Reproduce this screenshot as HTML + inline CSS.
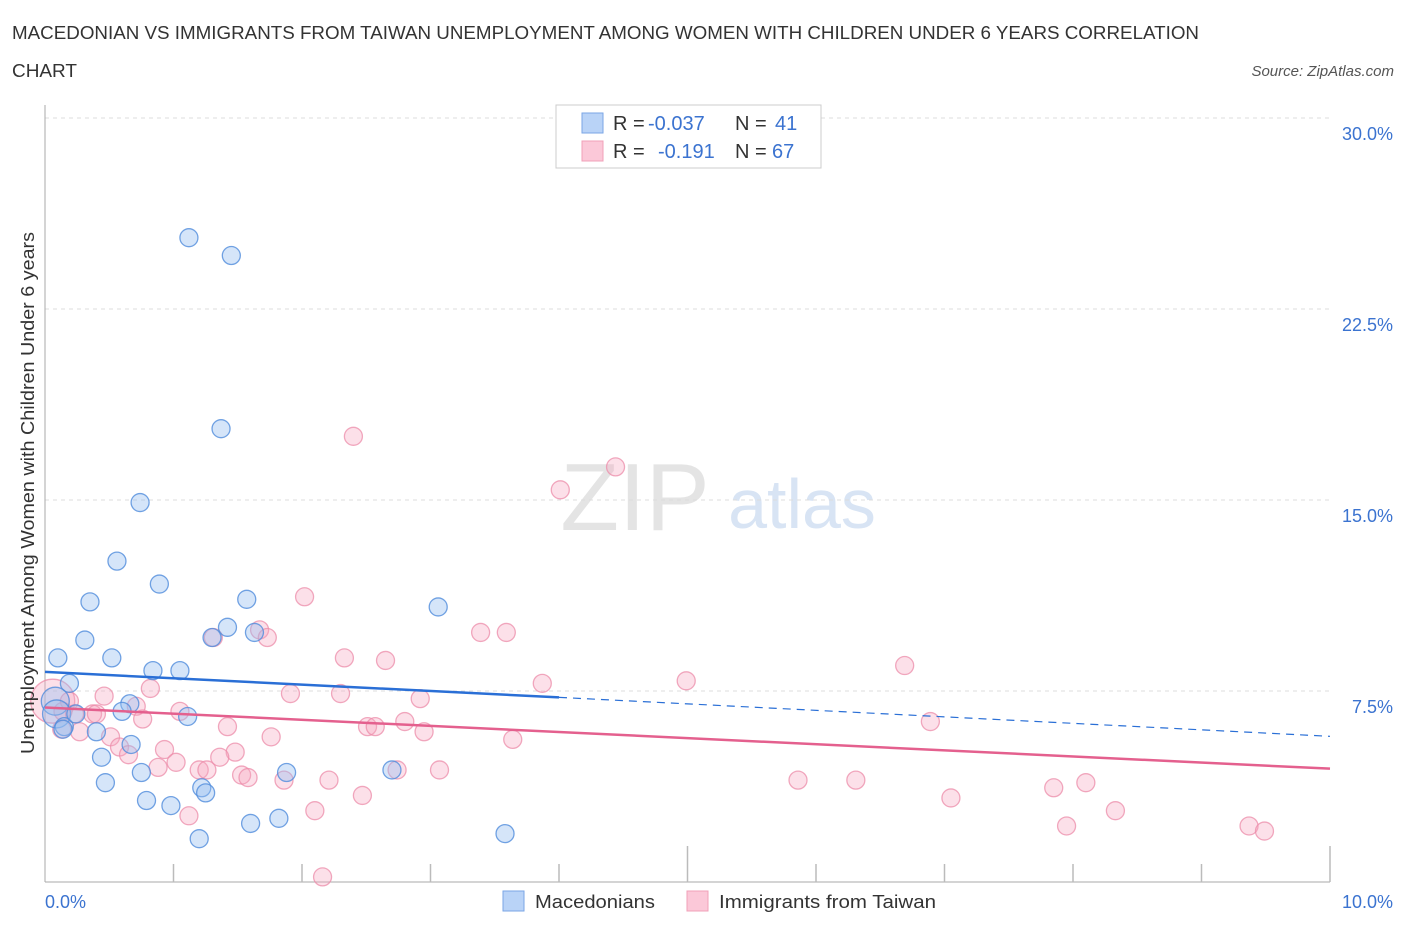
<!DOCTYPE html>
<html><head><meta charset="utf-8"><style>
body{margin:0;background:#fff;font-family:"Liberation Sans",sans-serif}
svg text{font-family:"Liberation Sans",sans-serif}
</style></head><body>
<svg id="c" width="1406" height="930" xmlns="http://www.w3.org/2000/svg">
<text x="12" y="39" font-size="18" fill="#333" textLength="1187" lengthAdjust="spacingAndGlyphs">MACEDONIAN VS IMMIGRANTS FROM TAIWAN UNEMPLOYMENT AMONG WOMEN WITH CHILDREN UNDER 6 YEARS CORRELATION</text>
<text x="12" y="77" font-size="18" fill="#333" textLength="65" lengthAdjust="spacingAndGlyphs">CHART</text>
<text x="1394" y="76" font-size="15" fill="#555" font-style="italic" text-anchor="end">Source: ZipAtlas.com</text>
<text x="635" y="530" font-size="96" fill="#e4e4e4" font-family="Liberation Serif" text-anchor="middle">ZIP</text>
<text x="802" y="528" font-size="70" fill="#d8e4f4" text-anchor="middle">atlas</text>
<g id="grid"></g>
<g id="marks"></g>
<text transform="translate(34,493) rotate(-90)" font-size="18" fill="#333" text-anchor="middle" textLength="522" lengthAdjust="spacingAndGlyphs">Unemployment Among Women with Children Under 6 years</text>
<text x="45" y="908" font-size="18" fill="#3b73d0">0.0%</text>
<text x="1393" y="908" font-size="18" fill="#3b73d0" text-anchor="end">10.0%</text>
<g>
<rect x="556" y="105" width="265" height="63" fill="#fff" stroke="#ccc"/>
<rect x="582" y="113" width="21" height="20" fill="#b9d3f7" stroke="#7aa6e6"/>
<rect x="582" y="141" width="21" height="20" fill="#fbc8d8" stroke="#f0a0b8"/>
<text x="613" y="130" font-size="20" fill="#333">R =</text><text x="648" y="130" font-size="20" fill="#3b73d0">-0.037</text>
<text x="735" y="130" font-size="20" fill="#333">N =</text><text x="775" y="130" font-size="20" fill="#3b73d0">41</text>
<text x="613" y="158" font-size="20" fill="#333">R =</text><text x="658" y="158" font-size="20" fill="#3b73d0">-0.191</text>
<text x="735" y="158" font-size="20" fill="#333">N =</text><text x="772" y="158" font-size="20" fill="#3b73d0">67</text>
</g>
<g>
<rect x="503" y="891" width="21" height="20" fill="#b9d3f7" stroke="#7aa6e6"/>
<text x="535" y="908" font-size="18" fill="#333" textLength="120" lengthAdjust="spacingAndGlyphs">Macedonians</text>
<rect x="687" y="891" width="21" height="20" fill="#fbc8d8" stroke="#f0a0b8"/>
<text x="719" y="908" font-size="18" fill="#333" textLength="217" lengthAdjust="spacingAndGlyphs">Immigrants from Taiwan</text>
</g>
</svg>
<script>
const yTicks=[7.5,15,22.5,30];
const yTickLabels=["7.5%","15.0%","22.5%","30.0%"];
const macX=[1.12,1.45,1.37,0.74,0.56,0.89,0.35,1.57,3.06,1.42,1.30,1.63,0.31,0.10,0.52,0.84,1.05,0.19,0.66,0.60,1.11,0.08,0.09,0.15,0.40,0.67,0.44,0.75,1.88,2.70,0.47,0.79,0.98,1.22,1.25,1.60,1.82,1.20,3.58,0.14,0.24];
const macY=[25.3,24.6,17.8,14.9,12.6,11.7,11.0,11.1,10.8,10.0,9.6,9.8,9.5,8.8,8.8,8.3,8.3,7.8,7.0,6.7,6.5,7.1,6.6,6.1,5.9,5.4,4.9,4.3,4.3,4.4,3.9,3.2,3.0,3.7,3.5,2.3,2.5,1.7,1.9,6.0,6.6];
const twX=[2.40,4.44,4.01,2.02,3.39,3.59,1.67,1.73,1.31,2.33,2.65,6.69,4.99,3.87,0.82,1.91,0.46,2.92,2.30,0.06,0.71,0.14,0.37,1.05,0.40,0.76,1.42,2.51,2.57,2.80,6.89,0.13,0.27,0.51,1.76,2.95,3.64,0.58,0.93,1.48,0.65,1.36,1.02,0.88,1.20,1.26,1.53,1.58,1.86,2.21,2.74,3.07,5.86,6.31,8.10,7.85,2.47,7.05,2.10,1.12,8.33,7.95,9.37,9.49,2.16,0.19,0.23];
const twY=[17.5,16.3,15.4,11.2,9.8,9.8,9.9,9.6,9.6,8.8,8.7,8.5,7.9,7.8,7.6,7.4,7.3,7.2,7.4,7.1,6.9,6.7,6.6,6.7,6.6,6.4,6.1,6.1,6.1,6.3,6.3,6.0,5.9,5.7,5.7,5.9,5.6,5.3,5.2,5.1,5.0,4.9,4.7,4.5,4.4,4.4,4.2,4.1,4.0,4.0,4.4,4.4,4.0,4.0,3.9,3.7,3.4,3.3,2.8,2.6,2.8,2.2,2.2,2.0,0.2,7.1,6.6];
const macBig=[0,0,0,0,0,0,0,0,0,0,0,0,0,0,0,0,0,0,0,0,0,1,1,0,0,0,0,0,0,0,0,0,0,0,0,0,0,0,0,0,0];
const X0=45,X1=1330,Y0=882,Y1=118;
const sx=v=>X0+(v/10)*(X1-X0);
const sy=v=>Y0-(v/30)*(Y0-Y1);
const NS="http://www.w3.org/2000/svg";
const grid=document.getElementById('grid'),marks=document.getElementById('marks');
function mk(tag,attrs,parent){const e=document.createElementNS(NS,tag);for(const k in attrs)e.setAttribute(k,attrs[k]);parent.appendChild(e);return e;}
yTicks.forEach((t,i)=>{
 const l=mk('line',{x1:X0,x2:X1,y1:sy(t),y2:sy(t),stroke:'#ddd','stroke-dasharray':'4,4'},grid);
 
 
 const tx=mk('text',{x:1393,y:sy(t)+22,'font-size':18,fill:'#3b73d0','text-anchor':'end'},grid);
 tx.textContent=yTickLabels[i];
 
 
});
const ax=mk('line',{x1:X0,x2:X0,y1:105,y2:Y0,stroke:'#aaa'},grid);


const bx=mk('line',{x1:X0,x2:X1,y1:Y0,y2:Y0,stroke:'#aaa'},grid);


for(let i=1;i<=10;i++){
 const t=mk('line',{x1:sx(i),x2:sx(i),y1:Y0-36,y2:Y0,stroke:'#bbb','stroke-width':1.5},grid);
 if(i!==5&&i!==10)t.setAttribute('y1',Y0-18);
 
 
}
twX.forEach((x,i)=>{
 const c=mk('circle',{cx:sx(x),cy:sy(twY[i]),r:(i===19?22:9),fill:'rgba(245,165,192,0.35)',stroke:'rgba(236,140,170,0.75)','stroke-width':1.3},marks);
 
 
});
macX.forEach((x,i)=>{
 const c=mk('circle',{cx:sx(x),cy:sy(macY[i]),r:(macBig[i]?14:9),fill:'rgba(150,190,240,0.4)',stroke:'rgba(80,140,220,0.8)','stroke-width':1.3},marks);
 
 
});
const l1=mk('line',{x1:sx(0),y1:sy(8.25),x2:sx(4),y2:sy(7.25),stroke:'#2a6fd6','stroke-width':2.5},marks);


const l1d=mk('line',{x1:sx(4),y1:sy(7.25),x2:sx(10),y2:sy(5.72),stroke:'#2a6fd6','stroke-width':1.2,'stroke-dasharray':'8,6'},marks);


const l2=mk('line',{x1:sx(0),y1:sy(6.85),x2:sx(10),y2:sy(4.45),stroke:'#e4608e','stroke-width':2.5},marks);


</script>
</body></html>
